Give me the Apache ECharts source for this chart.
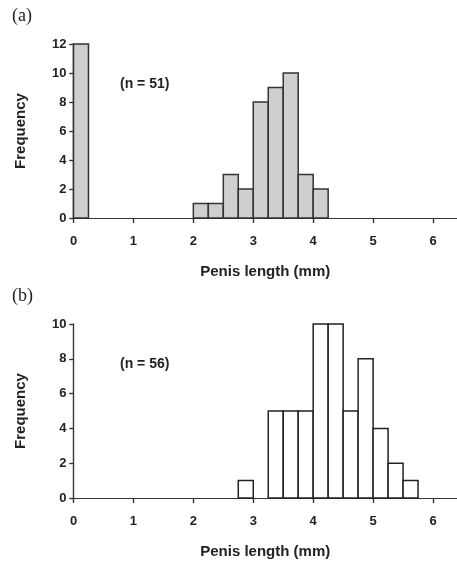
<!DOCTYPE html>
<html><head><meta charset="utf-8">
<script src="https://cdn.jsdelivr.net/npm/echarts@6/dist/echarts.min.js"></script>
<style>html,body{margin:0;padding:0;background:#fff}#c{width:457px;height:563px}</style>
</head><body><div id="c"></div>
<script>
// Panel (a): bin starts (mm) and frequencies, bin width 0.25 mm
var binStartsA = [0, 2.0, 2.25, 2.5, 2.75, 3.0, 3.25, 3.5, 3.75, 4.0];
var countsA    = [12, 1, 1, 3, 2, 8, 9, 10, 3, 2];
// Panel (b)
var binStartsB = [2.75, 3.25, 3.5, 3.75, 4.0, 4.25, 4.5, 4.75, 5.0, 5.25, 5.5];
var countsB    = [1, 5, 5, 5, 10, 10, 5, 8, 4, 2, 1];
var binWidth = 0.25;
var xTicks = [0, 1, 2, 3, 4, 5, 6];
var yTicksA = [0, 2, 4, 6, 8, 10, 12];
var yTicksB = [0, 2, 4, 6, 8, 10];
var xTitle = 'Penis length (mm)';
var yTitle = 'Frequency';

var font = '"Liberation Sans", Arial, sans-serif';
var ink = '#222';

function histData(starts, counts) {
  return starts.map(function (s, i) { return [s, s + binWidth, counts[i]]; });
}
function renderBar(fill, stroke) {
  return function (params, api) {
    var p0 = api.coord([api.value(0), 0]);
    var p1 = api.coord([api.value(1), api.value(2)]);
    return {
      type: 'rect',
      shape: { x: p0[0], y: p1[1], width: p1[0] - p0[0], height: p0[1] - p1[1] },
      style: { fill: fill, stroke: stroke, lineWidth: 1.5 }
    };
  };
}
function xAx(gi, main) {
  return {
    type: 'value', gridIndex: gi, min: 0, max: 6.4, interval: 1,
    name: main ? xTitle : '', nameLocation: 'middle', nameGap: 46,
    nameTextStyle: { fontFamily: font, fontWeight: 'bold', fontSize: 15, color: ink },
    axisLine: { show: true, lineStyle: { color: '#333', width: 1.2 } },
    axisTick: { show: true, inside: !main, length: 5, customValues: xTicks, lineStyle: { color: '#333', width: 1.2 } },
    axisLabel: { show: main, margin: 17, fontFamily: font, fontWeight: 'bold', fontSize: 13, color: ink,
      customValues: xTicks,
      formatter: function (v) { return xTicks.indexOf(v) >= 0 ? String(v) : ''; } },
    splitLine: { show: false }
  };
}
function yAx(gi, max, ticks, main) {
  return {
    type: 'value', gridIndex: gi, min: 0, max: max, interval: 2,
    name: main ? yTitle : '', nameLocation: 'middle', nameGap: 45,
    nameTextStyle: { fontFamily: font, fontWeight: 'bold', fontSize: 15, color: ink },
    axisLine: { show: true, lineStyle: { color: '#333', width: 1.2 } },
    axisTick: { show: true, inside: !main, length: 4, lineStyle: { color: '#333', width: 1.2 } },
    axisLabel: { show: main, margin: 7, fontFamily: font, fontWeight: 'bold', fontSize: 13, color: ink },
    splitLine: { show: false }
  };
}

var chart = echarts.init(document.getElementById('c'));
chart.setOption({
  animation: false,
  backgroundColor: '#fff',
  grid: [
    { left: 73.5, top: 44, width: 383.5, height: 174 },
    { left: 73.5, top: 324, width: 383.5, height: 174 }
  ],
  xAxis: [xAx(0, true), xAx(1, true), xAx(0, false), xAx(1, false)],
  yAxis: [yAx(0, 12, yTicksA, true), yAx(1, 10, yTicksB, true), yAx(0, 12, yTicksA, false), yAx(1, 10, yTicksB, false)],
  graphic: [
    { type: 'text', left: 12, top: 7, style: { text: '(a)', font: '18px "Liberation Serif", "Times New Roman", serif', fill: ink } },
    { type: 'text', left: 12, top: 287, style: { text: '(b)', font: '18px "Liberation Serif", "Times New Roman", serif', fill: ink } },
    { type: 'text', left: 120, top: 77, style: { text: '(n = 51)', font: 'bold 14px "Liberation Sans", Arial, sans-serif', fill: ink } },
    { type: 'text', left: 120, top: 357, style: { text: '(n = 56)', font: 'bold 14px "Liberation Sans", Arial, sans-serif', fill: ink } }
  ],
  series: [
    { type: 'custom', xAxisIndex: 0, yAxisIndex: 0, renderItem: renderBar('#cfcfcf', '#333'),
      encode: { x: [0, 1], y: 2 }, data: histData(binStartsA, countsA) },
    { type: 'custom', xAxisIndex: 1, yAxisIndex: 1, renderItem: renderBar('#ffffff', '#222'),
      encode: { x: [0, 1], y: 2 }, data: histData(binStartsB, countsB) }
  ]
});
</script></body></html>
